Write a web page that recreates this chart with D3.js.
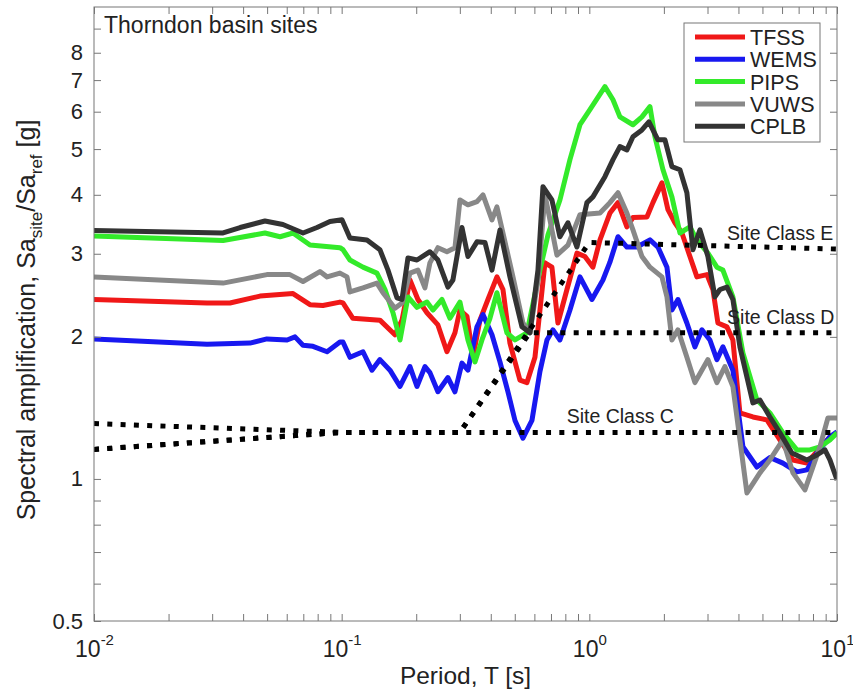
<!DOCTYPE html>
<html>
<head>
<meta charset="utf-8">
<script src="https://cdn.jsdelivr.net/npm/d3@7"></script>
<style>
  body { margin: 0; background: #fff; }
  svg text { font-family: "Liberation Sans", Arial, Helvetica, sans-serif; fill: #222; }
</style>
</head>
<body>
<div id="chart"></div>
<script>
// ---- data: [period T (s), Sa_site/Sa_ref] ----
const tfss = [[0.01,2.40],[0.0286,2.36],[0.0354,2.36],[0.0468,2.44],[0.0636,2.47],[0.0745,2.34],[0.084,2.33],[0.0984,2.37],[0.1012,2.36],[0.111,2.19],[0.1427,2.17],[0.1641,2.02],[0.1752,2.17],[0.1887,2.64],[0.2032,2.40],[0.221,2.25],[0.2447,2.12],[0.2661,1.86],[0.2867,2.04],[0.3003,2.28],[0.3206,2.21],[0.3389,1.81],[0.3617,2.17],[0.3896,2.40],[0.4236,2.68],[0.448,2.52],[0.478,1.94],[0.5246,1.62],[0.5599,1.60],[0.6032,1.81],[0.662,2.87],[0.7063,2.81],[0.7467,2.14],[0.8121,2.52],[0.8912,3.01],[0.9598,2.96],[1.034,2.81],[1.104,3.21],[1.211,3.66],[1.305,3.85],[1.418,3.42],[1.50,3.58],[1.708,3.59],[1.806,3.85],[1.964,4.24],[2.077,3.72],[2.216,3.49],[2.365,3.32],[2.548,2.96],[2.719,2.68],[2.984,2.71],[3.155,2.52],[3.305,2.14],[3.594,2.10],[3.799,1.97],[4.055,1.38],[4.576,1.353],[5.212,1.334],[5.882,1.21],[6.637,1.097],[7.56,1.081],[9.363,1.228],[10,1.252]];

const wems = [[0.01,1.98],[0.0286,1.93],[0.0426,1.94],[0.0499,1.98],[0.0602,1.97],[0.0648,2.0],[0.0698,1.92],[0.0766,1.91],[0.0873,1.86],[0.0984,1.95],[0.1012,1.95],[0.108,1.81],[0.1219,1.86],[0.1325,1.70],[0.1427,1.79],[0.1567,1.70],[0.172,1.57],[0.1887,1.73],[0.2014,1.57],[0.2169,1.73],[0.2272,1.68],[0.2447,1.53],[0.2686,1.64],[0.2867,1.53],[0.306,1.76],[0.3235,1.70],[0.3518,2.10],[0.372,2.23],[0.4045,2.02],[0.4357,1.77],[0.4693,1.53],[0.501,1.33],[0.5395,1.22],[0.5865,1.33],[0.6319,1.69],[0.6744,1.97],[0.7131,2.07],[0.7608,1.97],[0.8351,2.28],[0.9165,2.68],[1.0245,2.40],[1.1347,2.64],[1.211,2.88],[1.305,3.26],[1.418,3.10],[1.557,3.10],[1.757,3.21],[1.892,3.10],[2.058,2.81],[2.155,2.28],[2.279,2.40],[2.477,2.14],[2.669,1.905],[2.848,2.07],[3.068,1.97],[3.274,1.79],[3.462,1.905],[3.799,1.70],[4.17,1.17],[4.749,1.06],[5.359,1.11],[6.047,1.08],[6.888,1.035],[7.56,1.045],[8.297,1.135],[9.363,1.228],[10,1.258]];

const pips = [[0.01,3.27],[0.0332,3.20],[0.049,3.32],[0.0564,3.26],[0.0636,3.32],[0.0745,3.13],[0.0984,3.09],[0.1012,3.06],[0.108,2.91],[0.1219,2.81],[0.1388,2.73],[0.1496,2.52],[0.1611,2.25],[0.172,1.97],[0.1852,2.43],[0.2014,2.31],[0.221,2.37],[0.2336,2.28],[0.2541,2.40],[0.2736,2.19],[0.3003,2.37],[0.3235,1.97],[0.3453,1.77],[0.3685,1.97],[0.3969,2.19],[0.4236,2.48],[0.4649,2.04],[0.501,1.97],[0.5599,2.04],[0.6319,2.77],[0.6807,3.29],[0.7608,3.90],[0.8351,4.75],[0.9165,5.63],[1.0055,6.06],[1.156,6.78],[1.246,6.36],[1.329,5.85],[1.50,5.63],[1.631,5.85],[1.757,6.15],[1.84,5.31],[1.983,4.52],[2.155,3.96],[2.322,3.32],[2.548,3.42],[2.719,3.21],[3.012,3.01],[3.274,2.81],[3.462,2.77],[3.799,2.43],[4.17,1.85],[4.749,1.47],[5.359,1.38],[6.047,1.252],[6.888,1.152],[7.773,1.152],[8.531,1.169],[9.363,1.21],[10,1.252]];

const vuws = [[0.01,2.68],[0.0332,2.60],[0.0499,2.71],[0.0618,2.71],[0.0698,2.62],[0.0817,2.75],[0.0873,2.68],[0.0984,2.73],[0.1051,2.68],[0.108,2.49],[0.1219,2.54],[0.1388,2.60],[0.1468,2.48],[0.1641,2.30],[0.1752,2.36],[0.1887,2.73],[0.2032,2.77],[0.2169,2.54],[0.2272,2.87],[0.2447,3.09],[0.2661,3.03],[0.2867,3.09],[0.3003,3.90],[0.3235,3.81],[0.3518,3.87],[0.372,4.0],[0.4045,3.54],[0.4236,3.77],[0.448,3.32],[0.4916,2.68],[0.5395,2.14],[0.5758,2.04],[0.6203,2.64],[0.662,4.0],[0.7398,2.98],[0.8197,3.13],[0.9165,3.63],[1.104,3.66],[1.211,3.85],[1.305,4.04],[1.418,3.66],[1.50,3.37],[1.631,2.96],[1.757,2.81],[1.964,2.68],[2.058,2.43],[2.155,1.97],[2.279,2.07],[2.477,1.81],[2.669,1.60],[3.012,1.79],[3.274,1.60],[3.527,1.73],[3.799,1.57],[4.328,0.934],[4.883,1.03],[5.359,1.097],[6.047,1.21],[6.637,1.03],[7.421,0.948],[8.531,1.169],[9.191,1.347],[10,1.347]];

const cplb = [[0.01,3.36],[0.0332,3.32],[0.0389,3.41],[0.049,3.52],[0.0579,3.46],[0.0698,3.32],[0.0795,3.41],[0.0897,3.51],[0.1003,3.54],[0.108,3.24],[0.1265,3.21],[0.1427,3.06],[0.1538,2.77],[0.1672,2.42],[0.1752,2.40],[0.1852,2.94],[0.2014,2.91],[0.2272,3.03],[0.2447,2.91],[0.2686,2.55],[0.2813,2.64],[0.306,3.41],[0.3235,2.96],[0.3518,3.18],[0.3789,3.17],[0.4045,2.77],[0.4357,3.37],[0.478,2.68],[0.5346,2.10],[0.5758,2.04],[0.6203,2.77],[0.6498,4.16],[0.7063,3.90],[0.7608,3.26],[0.8197,3.49],[0.8912,3.10],[0.9779,3.85],[1.034,3.96],[1.156,4.37],[1.246,4.75],[1.329,5.06],[1.418,4.98],[1.50,5.31],[1.631,5.49],[1.74,5.71],[1.892,5.23],[2.02,5.23],[2.155,4.59],[2.322,4.52],[2.477,4.04],[2.62,3.06],[2.796,3.37],[3.012,2.96],[3.214,2.43],[3.368,2.52],[3.594,2.55],[3.799,2.40],[4.055,1.905],[4.576,1.449],[4.883,1.47],[5.359,1.353],[5.882,1.252],[6.576,1.135],[7.56,1.097],[8.297,1.124],[8.939,1.152],[9.363,1.097],[10,0.995]];

// code spectral ratio curves (dotted)
const siteC = [[0.01,1.31],[0.1,1.255],[10,1.255]];
const siteD = [[0.01,1.155],[0.1,1.255],[0.3,1.255],[0.575,2.04],[10,2.04]];
const siteE = [[0.01,1.155],[0.1,1.255],[0.3,1.255],[1.0,3.17],[10,3.07]];

const seriesNames = ["TFSS", "WEMS", "PIPS", "VUWS", "CPLB"];
const seriesColors = ["#f01818", "#1818f0", "#33ea2a", "#888888", "#333333"];
const siteNames = ["Site Class C", "Site Class D", "Site Class E"];
const siteLabelAt = [[0.81, 1.255], [3.6, 2.04], [3.6, 3.07]];

const xMajor = [0.01, 0.1, 1, 10];
const xExp = ["-2", "-1", "0", "1"];
const yTicks = [0.5, 0.6, 0.7, 0.8, 0.9, 1, 2, 3, 4, 5, 6, 7, 8, 9];
const yLabelled = [0.5, 1, 2, 3, 4, 5, 6, 7, 8];

// ---- layout ----
const W = 853, H = 689;
const margin = { top: 7, right: 16, bottom: 68, left: 94 };
const plotW = W - margin.left - margin.right;
const plotH = H - margin.top - margin.bottom;

const svg = d3.select("#chart").append("svg")
  .attr("width", W)
  .attr("height", H);

const g = svg.append("g")
  .attr("transform", `translate(${margin.left},${margin.top})`);

const x = d3.scaleLog().domain([0.01, 10]).range([0, plotW]);
const y = d3.scaleLog().domain([0.5, 10]).range([plotH, 0]);

// minor x ticks 1..9 in each decade
let xTicks = [];
xMajor.forEach((m, i) => {
  if (i < xMajor.length - 1) {
    for (let k = 1; k < 10; k++) xTicks.push(m * k);
  } else xTicks.push(m);
});

g.append("clipPath").attr("id", "clip")
  .append("rect").attr("width", plotW).attr("height", plotH);

const line = d3.line()
  .x(d => x(d[0]))
  .y(d => y(d[1]));

// series
const allSeries = [tfss, wems, pips, vuws, cplb];
const lines = g.append("g").attr("clip-path", "url(#clip)");
allSeries.forEach((s, i) => {
  lines.append("path")
    .datum(s)
    .attr("fill", "none")
    .attr("stroke", seriesColors[i])
    .attr("stroke-width", 5)
    .attr("stroke-linejoin", "round")
    .attr("d", line);
});

// site class dotted curves
[siteC, siteD, siteE].forEach(s => {
  lines.append("path")
    .datum(s)
    .attr("fill", "none")
    .attr("stroke", "#000")
    .attr("stroke-width", 5)
    .attr("stroke-dasharray", "5 8.3")
    .attr("d", line);
});

siteNames.forEach((t, i) => {
  g.append("text")
    .attr("x", x(siteLabelAt[i][0]))
    .attr("y", y(siteLabelAt[i][1]) - 9)
    .style("font-size", "19.5px")
    .text(t);
});

// axes (ticks pointing inwards, on all four sides)
const axisColor = "#777";
const xAxis = d3.axisBottom(x).tickValues(xTicks).tickSizeInner(-7).tickSizeOuter(0)
  .tickFormat(d => xMajor.includes(d) ? "10" : "");
const xAxisG = g.append("g")
  .attr("transform", `translate(0,${plotH})`)
  .call(xAxis);
xAxisG.selectAll(".tick text").each(function (d) {
  const i = xMajor.indexOf(d);
  const t = d3.select(this);
  t.text(null).attr("dy", null).attr("y", 36).style("font-size", "23px");
  if (i < 0) return;
  t.append("tspan").text("10");
  t.append("tspan").attr("dy", -12).style("font-size", "15px").text(xExp[i]);
});

g.append("g").call(d3.axisTop(x).tickValues(xTicks).tickSizeInner(-7).tickSizeOuter(0).tickFormat(""));

const yAxis = d3.axisLeft(y).tickValues(yTicks).tickSizeInner(-7).tickSizeOuter(0).tickPadding(11)
  .tickFormat(d => yLabelled.includes(d) ? String(d) : "");
g.append("g").call(yAxis)
  .selectAll(".tick text").style("font-size", "22px");

g.append("g")
  .attr("transform", `translate(${plotW},0)`)
  .call(d3.axisRight(y).tickValues(yTicks).tickSizeInner(-7).tickSizeOuter(0).tickFormat(""));

g.selectAll(".domain").remove();
g.selectAll(".tick line").attr("stroke", axisColor);
g.selectAll(".tick text").attr("fill", "#222");

g.append("rect")
  .attr("width", plotW)
  .attr("height", plotH)
  .attr("fill", "none")
  .attr("stroke", axisColor);

// title inside the plot
g.append("text")
  .attr("x", 10)
  .attr("y", 26)
  .style("font-size", "23px")
  .text("Thorndon basin sites");

// legend
const legend = svg.append("g").attr("transform", "translate(684,23)");
legend.append("rect")
  .attr("width", 136)
  .attr("height", 119)
  .attr("fill", "#fff")
  .attr("stroke", axisColor);
seriesNames.forEach((n, i) => {
  const ly = 14 + i * 22.3;
  legend.append("line")
    .attr("x1", 11).attr("x2", 61)
    .attr("y1", ly).attr("y2", ly)
    .attr("stroke", seriesColors[i])
    .attr("stroke-width", 5);
  legend.append("text")
    .attr("x", 66)
    .attr("y", ly + 8)
    .style("font-size", "21.5px")
    .text(n);
});

// axis labels
svg.append("text")
  .attr("x", margin.left + plotW / 2)
  .attr("y", 684)
  .attr("text-anchor", "middle")
  .style("font-size", "24.5px")
  .text("Period, T [s]");

const yl = svg.append("text")
  .attr("transform", "translate(35,320) rotate(-90)")
  .attr("text-anchor", "middle")
  .style("font-size", "25px");
yl.append("tspan").text("Spectral amplification, Sa");
yl.append("tspan").attr("dy", 7).style("font-size", "17px").text("site");
yl.append("tspan").attr("dy", -7).text("/Sa");
yl.append("tspan").attr("dy", 7).style("font-size", "17px").text("ref");
yl.append("tspan").attr("dy", -7).text(" [g]");
</script>
</body>
</html>
